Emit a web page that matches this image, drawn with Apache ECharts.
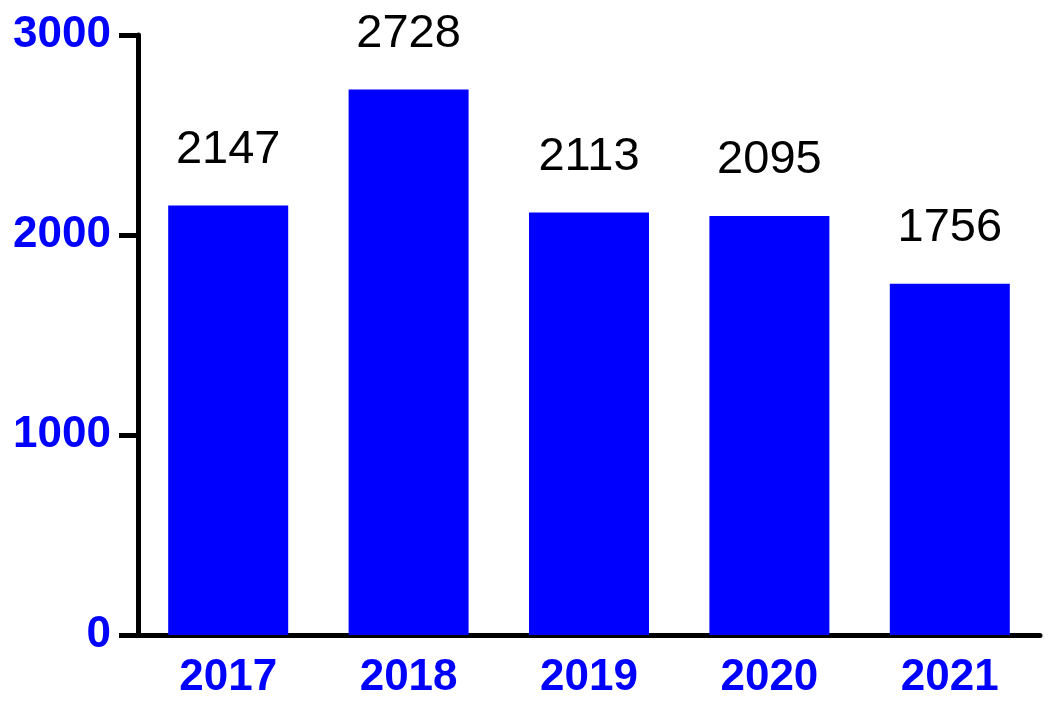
<!DOCTYPE html>
<html><head><meta charset="utf-8">
<script src="https://cdn.jsdelivr.net/npm/echarts@6/dist/echarts.min.js"></script>
<style>html,body{margin:0;padding:0;background:#fff}#c{width:1049px;height:710px}</style>
</head><body><div id="c"></div>
<script>
const categories = ['2017','2018','2019','2020','2021'];
const values = [2147, 2728, 2113, 2095, 1756];
const yTicks = [0, 1000, 2000, 3000];

const chart = echarts.init(document.getElementById('c'));
chart.setOption({
  animation: false,
  grid: {left: 138, right: 9, top: 35, bottom: 75},
  xAxis: {
    type: 'category', data: categories,
    axisLine: {lineStyle: {color: '#000', width: 5}},
    axisTick: {alignWithLabel: true, length: 17, lineStyle: {color: '#000', width: 5}},
    axisLabel: {color: '#0000FF', fontFamily: 'Liberation Sans, Arial', fontWeight: 'bold', fontSize: 44, margin: 21}
  },
  yAxis: {
    type: 'value', min: 0, max: 3000, interval: 1000,
    axisLine: {show: true, lineStyle: {color: '#000', width: 5}},
    axisTick: {show: true, length: 19, lineStyle: {color: '#000', width: 5}},
    splitLine: {show: false},
    axisLabel: {color: '#0000FF', fontFamily: 'Liberation Sans, Arial', fontWeight: 'bold', fontSize: 44, margin: 27,
      formatter: v => yTicks.includes(v) ? String(v) : ''}
  },
  series: [{
    type: 'bar', data: values, barWidth: 120,
    itemStyle: {color: '#0000FF'},
    label: {show: true, position: 'top', distance: 32, color: '#000', fontFamily: 'Liberation Sans, Arial', fontSize: 47}
  }]
});
</script></body></html>
